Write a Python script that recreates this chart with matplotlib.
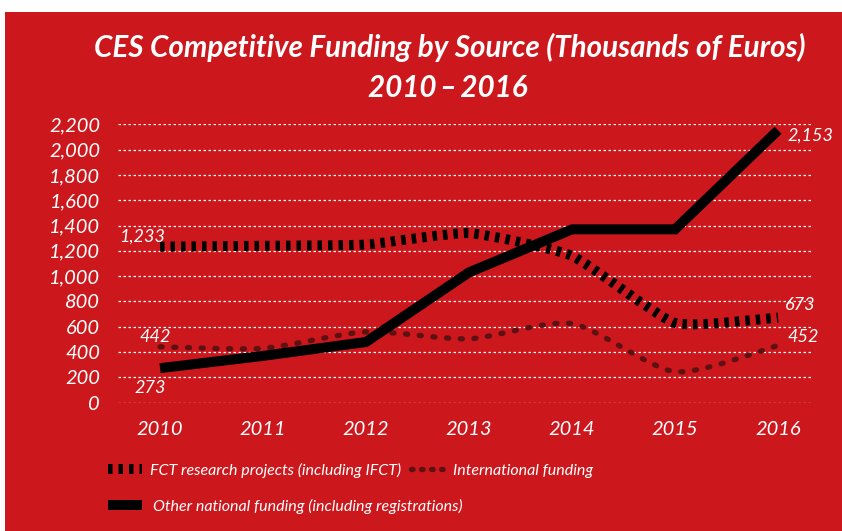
import numpy as np
import matplotlib
matplotlib.use("Agg")
from matplotlib import pyplot as plt
from matplotlib.path import Path
from matplotlib.patches import PathPatch, Rectangle
from matplotlib.lines import Line2D
from matplotlib import font_manager

years = [2010, 2011, 2012, 2013, 2014, 2015, 2016]
fct = [1233, 1240, 1250, 1340, 1160, 630, 673]
intl = [442, 430, 560, 505, 625, 245, 452]
other = [273, 370, 480, 1030, 1370, 1370, 2153]
yticks = list(range(0, 2201, 200))

RED = "#cc171d"
DARK = "#5c1212"

names = {f.name for f in font_manager.fontManager.ttflist}
FONT = "Liberation Sans Narrow" if "Liberation Sans Narrow" in names else "Lato"
plt.rcParams["font.family"] = [FONT, "DejaVu Sans"]


def smooth_path(xs, ys, t=0.1):
    # catmull-rom -> cubic bezier, same points, just a rounded stroke
    xs = np.asarray(xs, float)
    ys = np.asarray(ys, float)
    verts = [(xs[0], ys[0])]
    codes = [Path.MOVETO]
    n = len(xs)
    for i in range(n - 1):
        i0 = max(i - 1, 0)
        i3 = min(i + 2, n - 1)
        c1 = (xs[i] + (xs[i + 1] - xs[i0]) * t, ys[i] + (ys[i + 1] - ys[i0]) * t)
        c2 = (xs[i + 1] - (xs[i3] - xs[i]) * t, ys[i + 1] - (ys[i3] - ys[i]) * t)
        verts += [c1, c2, (xs[i + 1], ys[i + 1])]
        codes += [Path.CURVE4] * 3
    return Path(verts, codes)


fig = plt.figure(figsize=(8.42, 5.31), dpi=100)
fig.patch.set_facecolor("white")
fig.patches.append(Rectangle((5 / 842, 0), 1, (531 - 12) / 531, transform=fig.transFigure,
                             facecolor=RED, edgecolor="none", zorder=-10))

ax = fig.add_axes([118 / 842, 0.2416, (811 - 118) / 842, 0.7659 - 0.2416])
ax.set_facecolor("none")
ax.set_xlim(2009.592, 2016.32)
ax.set_ylim(0, 2200)
for s in ax.spines.values():
    s.set_visible(False)
ax.set_yticks(yticks)
ax.set_yticklabels([f"{v:,}" for v in yticks])
ax.set_xticks(years)
ax.tick_params(length=0, colors="white", labelsize=14.5)
ax.tick_params(axis="y", pad=13)
ax.tick_params(axis="x", pad=13)
for lab in ax.get_xticklabels() + ax.get_yticklabels():
    lab.set_fontstyle("italic")
ax.grid(axis="y", color="white", linestyle=(0, (2, 2)), linewidth=0.9)
ax.set_axisbelow(True)

fct_patch = PathPatch(smooth_path(years, fct, 0.08), facecolor="none", edgecolor="black",
                      linewidth=7.2, linestyle=(0, (0.45, 0.6)), capstyle="butt",
                      clip_on=False, zorder=3)
ax.add_patch(fct_patch)
intl_patch = PathPatch(smooth_path(years, intl, 0.12), facecolor="none", edgecolor=DARK,
                       linewidth=3.8, linestyle=(0, (0.4, 2.2)), capstyle="round",
                       clip_on=False, zorder=3)
ax.add_patch(intl_patch)
ax.plot(years, other, color="black", linewidth=7.2, solid_capstyle="butt",
        solid_joinstyle="miter", clip_on=False, zorder=4)

lab_kw = dict(color="white", fontsize=13, fontstyle="italic", textcoords="offset points",
              va="center")
ax.annotate(f"{fct[0]:,}", (years[0], fct[0]), xytext=(-13, 7), ha="center", **lab_kw)
ax.annotate(f"{intl[0]:,}", (years[0], intl[0]), xytext=(-3.6, 7), ha="center", **lab_kw)
ax.annotate(f"{other[0]:,}", (years[0], other[0]), xytext=(-7, -14), ha="center", **lab_kw)
ax.annotate(f"{other[-1]:,}", (years[-1], other[-1]), xytext=(7, -4), ha="left", **lab_kw)
ax.annotate(f"{fct[-1]:,}", (years[-1], fct[-1]), xytext=(5, 9), ha="left", **lab_kw)
ax.annotate(f"{intl[-1]:,}", (years[-1], intl[-1]), xytext=(7, 6), ha="left", **lab_kw)

fig.text(0.534, 0.910, "CES Competitive Funding by Source (Thousands of Euros)", ha="center",
         va="center", color="white", fontsize=21.3, fontweight="bold", fontstyle="italic")
fig.text(0.532, 0.834, "2010\u2009\u2013\u20092016", ha="center", va="center", color="white",
         fontsize=21.3, fontweight="bold", fontstyle="italic")

h_fct = Line2D([], [], color="black", linewidth=7.2, linestyle=(0, (0.45, 0.6)),
               dash_capstyle="butt")
h_other = Line2D([], [], color="black", linewidth=7.2, solid_capstyle="butt")
h_intl = Line2D([], [], color=DARK, linewidth=3.8, linestyle=(0, (0.3, 1.6)),
                dash_capstyle="round")
leg_prop = {"size": 11.5, "style": "italic", "family": [FONT, "DejaVu Sans"]}
leg1 = fig.legend([h_fct, h_intl],
                  ["FCT research projects (including IFCT)", "International funding"],
                  ncol=2, loc="center left", bbox_to_anchor=(108 / 842, 1 - 470 / 531),
                  frameon=False, handlelength=2.1, handletextpad=0.55, columnspacing=0.6,
                  borderpad=0, borderaxespad=0, prop=leg_prop)
leg2 = fig.legend([h_other], ["Other national funding (including registrations)"],
                  loc="center left", bbox_to_anchor=(108 / 842, 1 - 506 / 531),
                  frameon=False, handlelength=2.1, handletextpad=0.7,
                  borderpad=0, borderaxespad=0, prop=leg_prop)
for leg in (leg1, leg2):
    for t in leg.get_texts():
        t.set_color("white")

fig.savefig("out.png", dpi=100, facecolor=fig.get_facecolor())
